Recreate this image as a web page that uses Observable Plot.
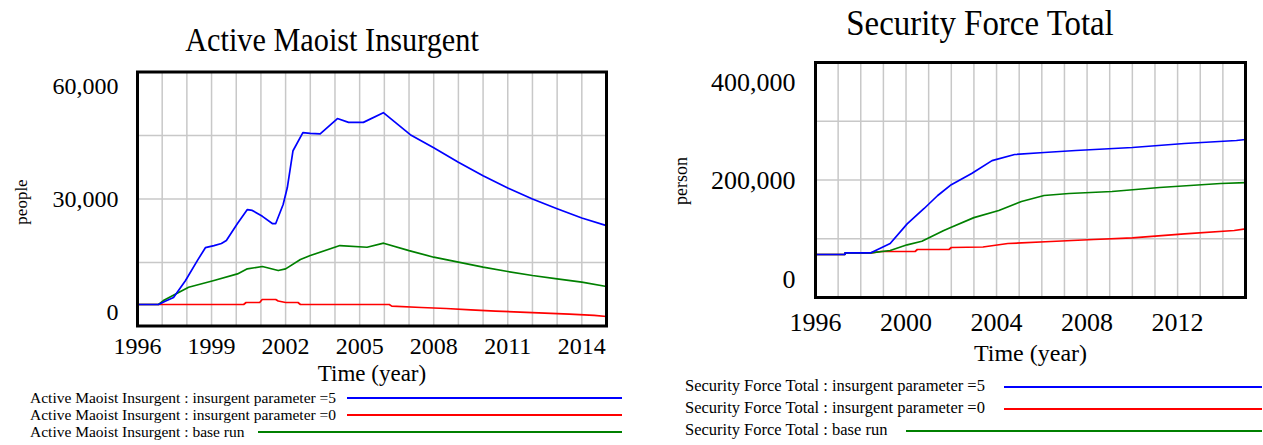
<!DOCTYPE html>
<html><head><meta charset="utf-8">
<script src="https://cdn.jsdelivr.net/npm/d3@7"></script>
<script src="https://cdn.jsdelivr.net/npm/@observablehq/plot@0.6"></script>
<style>
body{margin:0;background:#fff;}
#root{position:relative;width:1263px;height:445px;overflow:hidden;font-family:"Liberation Serif","Times New Roman",serif;color:#000;background:#fff;}
#root svg{position:absolute;top:0;}
.abs{position:absolute;white-space:nowrap;line-height:1;}
.lg{position:absolute;height:2px;}
</style></head><body><div id="root"></div>
<script>
// ---------- Active Maoist Insurgent (people) ----------
const insP5Years = [1996,1996.85,1997.1,1997.46,1997.94,1998.43,1998.75,1999.1,1999.4,1999.6,2000.05,2000.45,2000.65,2001.06,2001.46,2001.6,2001.9,2002.07,2002.3,2002.7,2003.0,2003.4,2004.1,2004.55,2005.15,2005.96,2007.05,2008,2009,2010,2011,2012,2013,2014,2015];
const insP5 = [5080,5080,5800,6730,10700,15500,18500,19000,19500,20200,24200,27500,27300,25900,24200,24200,28700,32700,41400,45700,45500,45400,49000,48100,48100,50400,45200,42100,38700,35500,32600,30000,27700,25500,23700];
const insBaseYears = [1996,1996.85,1997.05,1998.07,1999.1,2000.05,2000.45,2001.06,2001.7,2002.0,2002.6,2003.0,2004.2,2005.3,2005.97,2007,2008,2009,2010,2011,2012,2013,2014,2015];
const insBase = [5080,5080,6000,9150,10750,12300,13500,14050,13100,13500,15700,16650,19000,18600,19560,17800,16250,15070,13900,12870,11930,11140,10350,9330];
const insP0Years = [1996,2000.3,2000.4,2000.95,2001.05,2001.6,2001.7,2002.0,2002.5,2002.6,2006.2,2006.3,2007.5,2008.5,2009.5,2010.5,2011.5,2012.5,2013.5,2014.5,2015];
const insP0 = [5080,5080,5550,5550,6260,6260,5900,5550,5550,5080,5080,4700,4370,4130,3800,3500,3300,3050,2800,2500,2240];
const insXTicks = [1996,1999,2002,2005,2008,2011,2014];
const insYTicks = [0,30000,60000];
const insGridY = [15000,30000,45000];

// ---------- Security Force Total (person) ----------
const secP5Years = [1996,1997.3,1997.31,1998.45,1999.3,2000.05,2000.8,2001.4,2002.0,2002.9,2003.8,2004.8,2006.1,2007.5,2010,2012.3,2014.6,2015];
const secP5 = [73200,73200,76000,76000,91900,125400,151500,173600,192000,211000,233000,243400,246800,250200,255300,262100,267200,268900];
const secBaseYears = [1996,1997.3,1997.31,1998.45,1999.3,2000.05,2000.7,2001.67,2002.0,2003.0,2004.1,2005.1,2006.1,2007.2,2009.1,2011.2,2013.9,2015];
const secBase = [73200,73200,76000,76000,80000,89700,95800,114000,119700,136000,148000,163400,173600,177000,180400,187200,194000,195700];
const secP0Years = [1996,1997.3,1997.31,1998.45,1998.9,2000.4,2000.5,2001.9,2002.0,2003.4,2004.5,2006.4,2008.3,2010,2012.3,2014.5,2015];
const secP0 = [73200,73200,76000,76000,78300,78300,81700,81700,85100,86000,91900,95300,98700,101600,108400,114000,116900];
const secXTicks = [1996,2000,2004,2008,2012];
const secYTicks = [0,200000,400000];
const secGridY = [100000,200000,300000];

const gridYears = d3.range(1997, 2015);

const rows = (ts, vs) => ts.map((t, i) => ({t, v: vs[i]}));
const FONT = '"Liberation Serif","Times New Roman",serif';
const grid = {stroke: "#c8c8c8", strokeOpacity: 1, strokeWidth: 1.5};
const fmt = d3.format(",");

function chart({width, height, ml, mr, mt, mb, ymax, gy, xt, yt, series, fs, xPad, yPad, yDy, labDy, labFs}) {
  return Plot.plot({
    width, height, marginLeft: ml, marginRight: mr, marginTop: mt, marginBottom: mb,
    x: {domain: [1996, 2015], label: null},
    y: {domain: [0, ymax], label: null},
    style: {fontFamily: FONT, background: "transparent", color: "#000", overflow: "visible"},
    marks: [
      Plot.gridX(gridYears, grid),
      Plot.gridY(gy, grid),
      ...series.map(s => Plot.line(s.data, {x: "t", y: "v", stroke: s.color, strokeWidth: 1.7})),
      Plot.frame({stroke: "#000", strokeWidth: 3}),
      Plot.axisX(xt, {tickSize: 0, tickPadding: xPad, fontSize: fs, tickFormat: d => String(d), label: null}),
      ...yt.map((v, i) => Plot.axisY([v], {tickSize: 0, tickPadding: yPad, fontSize: fs, dy: yDy[i], tickFormat: fmt, label: null})),
      Plot.text(["Time (year)"], {text: d => d, frameAnchor: "bottom", dy: labDy, fontSize: labFs})
    ]
  });
}

const root = document.getElementById("root");

const left = chart({
  width: 640, height: 445, ml: 137, mr: 34, mt: 71.5, mb: 119.5, ymax: 60000,
  gy: insGridY, xt: insXTicks, yt: insYTicks,
  series: [
    {data: rows(insP0Years, insP0), color: "#ff0000"},
    {data: rows(insBaseYears, insBase), color: "#008000"},
    {data: rows(insP5Years, insP5), color: "#0000ff"}
  ],
  fs: 24, xPad: 11, yPad: 19, yDy: [-13.5, 0, 14], labDy: 55, labFs: 23
});
left.style.left = "0px";
root.appendChild(left);

const right = chart({
  width: 623, height: 445, ml: 175, mr: 18, mt: 62, mb: 148, ymax: 400000,
  gy: secGridY, xt: secXTicks, yt: secYTicks,
  series: [
    {data: rows(secP0Years, secP0), color: "#ff0000"},
    {data: rows(secBaseYears, secBase), color: "#008000"},
    {data: rows(secP5Years, secP5), color: "#0000ff"}
  ],
  fs: 26, xPad: 15.5, yPad: 20, yDy: [-17.5, 1, 20], labDy: 63, labFs: 24
});
right.style.left = "640px";
root.appendChild(right);

// ---------- text and legends ----------
function addText(txt, x, baseline, fs, opts = {}) {
  const d = document.createElement("div");
  d.className = "abs";
  d.textContent = txt;
  d.style.fontSize = fs + "px";
  d.style.left = x + "px";
  d.style.top = (baseline - 0.8375 * fs) + "px";
  if (opts.rotate) {
    d.style.top = baseline + "px";
    d.style.transform = "translate(-50%,-50%) rotate(-90deg)";
  }
  root.appendChild(d);
  return d;
}
function centered(txt, cx, baseline, fs, sx) {
  const d = document.createElement("div");
  d.className = "abs";
  d.textContent = txt;
  d.style.fontSize = fs + "px";
  d.style.left = cx + "px";
  d.style.top = (baseline - 0.8375 * fs) + "px";
  d.style.transform = `translateX(-50%) scaleX(${sx})`;
  root.appendChild(d);
}
centered("Active Maoist Insurgent", 332, 51, 34, 0.89);
centered("Security Force Total", 980, 35, 35, 0.94);
addText("people", 20.5, 202, 17, {rotate: true});
addText("person", 681, 181, 18, {rotate: true});

const insLegend = [
  {label: "Active Maoist Insurgent : insurgent parameter =5", color: "#0000ff", y: 398, x1: 347},
  {label: "Active Maoist Insurgent : insurgent parameter =0", color: "#ff0000", y: 415, x1: 347},
  {label: "Active Maoist Insurgent : base run", color: "#008000", y: 432, x1: 258}
];
const secLegend = [
  {label: "Security Force Total : insurgent parameter =5", color: "#0000ff", y: 387, x1: 1004},
  {label: "Security Force Total : insurgent parameter =0", color: "#ff0000", y: 409, x1: 1004},
  {label: "Security Force Total : base run", color: "#008000", y: 431, x1: 906}
];
function legend(items, tx, x2, fs) {
  items.forEach(it => {
    addText(it.label, tx, it.y + 4.5, fs);
    const l = document.createElement("div");
    l.className = "lg";
    l.style.left = it.x1 + "px";
    l.style.width = (x2 - it.x1) + "px";
    l.style.top = (it.y - 1) + "px";
    l.style.background = it.color;
    root.appendChild(l);
  });
}
legend(insLegend, 30, 622, 15.5);
legend(secLegend, 685, 1262, 16.5);
</script>
</body></html>
